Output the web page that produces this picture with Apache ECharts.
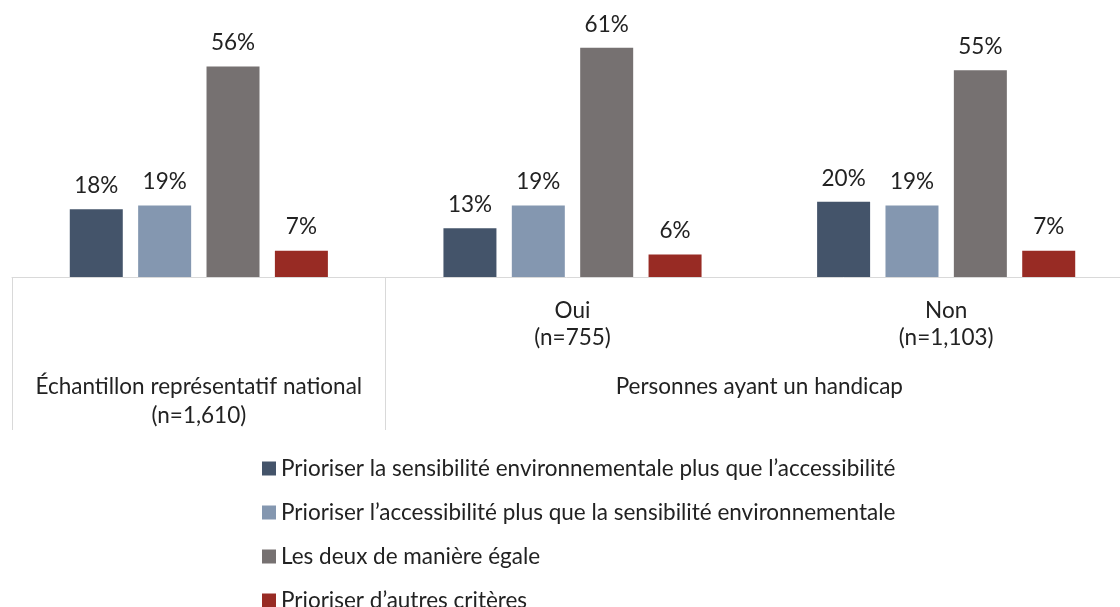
<!DOCTYPE html>
<html>
<head>
    <meta charset="utf-8">
    <title>Priorités</title>
</head>
<body style="margin:0">

    <div id="main" style="width: 1120px; height: 607px;"></div>
    <script src="https://cdn.jsdelivr.net/npm/echarts@6/dist/echarts.min.js"></script>
    <script type="text/javascript">
        // groupes (axe du bas) et sous-groupes
        var subLabels = ['', 'Oui\n(n=755)', 'Non\n(n=1,103)'];
        var outerLabels = ['', 'Échantillon représentatif national\n(n=1,610)', '', '', 'Personnes ayant un handicap', '', ''];

        var seriesNames = [
            'Prioriser la sensibilité environnementale plus que l’accessibilité',
            'Prioriser l’accessibilité plus que la sensibilité environnementale',
            'Les deux de manière égale',
            'Prioriser d’autres critères'
        ];
        var envFirst = [18, 13, 20];
        var accessFirst = [19, 19, 19];
        var bothEqual = [56, 61, 55];
        var otherCriteria = [7, 6, 7];

        var colors = ['#44546A', '#8497B0', '#767171', '#982B24'];
        var font = 'Lato';
        var fs = 22.5;

        var chartDom = document.getElementById('main');
        var myChart = echarts.init(chartDom);
        var option;

        function makeSeries(name, values, color) {
            return {
                name: name,
                type: 'bar',
                xAxisIndex: 0,
                barWidth: 53,
                barGap: '29%',
                itemStyle: { color: color },
                label: {
                    show: true,
                    position: 'top',
                    distance: 12,
                    formatter: '{c}%',
                    color: '#222',
                    fontFamily: font,
                    fontSize: fs
                },
                data: values
            };
        }

        option = {
            animation: false,
            // la grille dépasse à droite : le dernier trait vertical tombe hors cadre
            grid: { left: 12, right: -13, top: 14, height: 263, outerBoundsMode: 'none', containLabel: false },
            legend: {
                orient: 'vertical',
                left: 257,
                top: 452,
                height: 400,
                itemWidth: 14,
                itemHeight: 14,
                itemGap: 21,
                icon: 'rect',
                textStyle: { fontFamily: font, fontSize: fs, color: '#222', lineHeight: 22 },
                data: seriesNames
            },
            xAxis: [
                {
                    type: 'category',
                    data: subLabels,
                    axisLine: { show: true, lineStyle: { color: '#d9d9d9', width: 1 } },
                    axisTick: { show: false },
                    axisLabel: {
                        interval: 0,
                        margin: 20,
                        lineHeight: 27,
                        fontFamily: font,
                        fontSize: fs,
                        color: '#222'
                    }
                },
                {
                    type: 'category',
                    position: 'bottom',
                    boundaryGap: false,
                    data: outerLabels,
                    axisLine: { show: false },
                    axisTick: {
                        show: true,
                        interval: function (i) { return i === 0 || i === 2 || i === 6; },
                        length: 153,
                        lineStyle: { color: '#d9d9d9', width: 1 }
                    },
                    axisLabel: {
                        interval: 0,
                        margin: 95,
                        lineHeight: 29,
                        fontFamily: font,
                        fontSize: fs,
                        color: '#222'
                    }
                }
            ],
            yAxis: { type: 'value', min: 0, max: 70, show: false },
            series: [
                makeSeries(seriesNames[0], envFirst, colors[0]),
                makeSeries(seriesNames[1], accessFirst, colors[1]),
                makeSeries(seriesNames[2], bothEqual, colors[2]),
                makeSeries(seriesNames[3], otherCriteria, colors[3])
            ]
        };

        option && myChart.setOption(option);
    </script>
</body>
</html>
